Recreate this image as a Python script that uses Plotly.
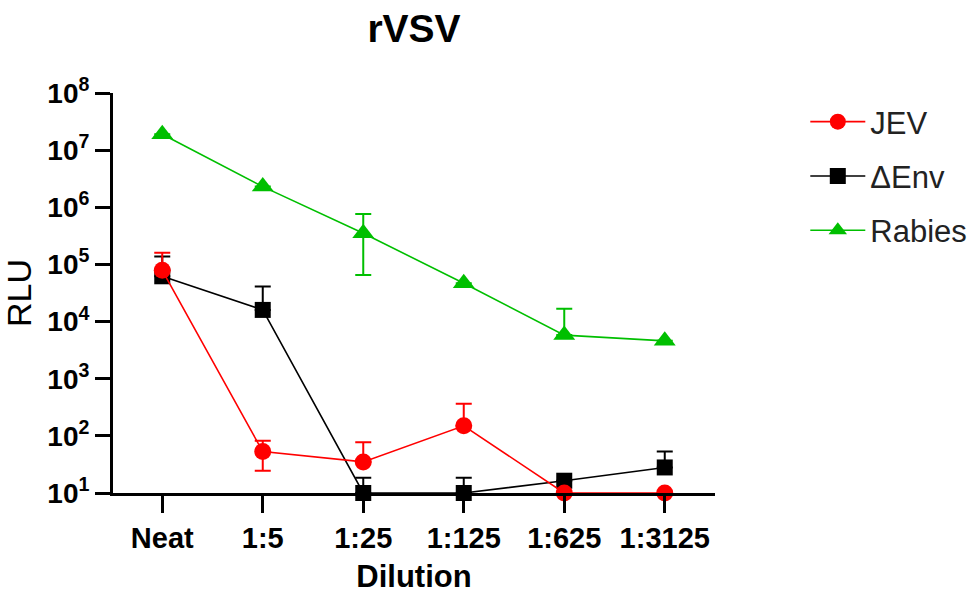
import plotly.graph_objects as go

dilutions = ["Neat", "1:5", "1:25", "1:125", "1:625", "1:3125"]

jev = [7.9e4, 53, 35, 150, 10, 10]
jev_err_plus = [8.1e4, 29, 42, 213, 0, 0]
jev_err_minus = [0, 28.5, 0, 0, 0, 0]

denv = [6.2e4, 1.6e4, 10, 10, 16.4, 28]
denv_err_plus = [7.6e4, 2.5e4, 8.5, 8.5, 0, 25]
denv_err_minus = [0, 0, 0, 0, 0, 0]

rabies = [1.9e7, 2.3e6, 3.5e5, 4.7e4, 5.8e3, 4.6e3]
rabies_err_plus = [0, 0, 4.1e5, 0, 1.1e4, 0]
rabies_err_minus = [0, 0, 2.85e5, 0, 0, 0]

ytick_vals = [1e1, 1e2, 1e3, 1e4, 1e5, 1e6, 1e7, 1e8]
ytick_text = ["10<sup>%d</sup>" % e for e in range(1, 9)]

FONT = "Liberation Sans, Arial, sans-serif"
RED = "#FF0000"
BLACK = "#000000"
GREEN = "#00BF00"

fig = go.Figure()

def add(name, y, plus, minus, color, symbol, size, rank):
    fig.add_trace(go.Scatter(
        x=dilutions, y=y, name=name, mode="lines+markers",
        line=dict(color=color, width=1.6),
        marker=dict(color=color, symbol=symbol, size=size),
        error_y=dict(type="data", symmetric=False, array=plus, arrayminus=minus,
                     color=color, thickness=2, width=8),
        cliponaxis=False, legendrank=rank, legendgroup=name,
    ))

add("Rabies", rabies, rabies_err_plus, rabies_err_minus, GREEN, "triangle-up", 19, 3)
add("ΔEnv", denv, denv_err_plus, denv_err_minus, BLACK, "square", 16, 2)
add("JEV", jev, jev_err_plus, jev_err_minus, RED, "circle", 17, 1)

fig.update_layout(
    width=974, height=594,
    margin=dict(l=113, r=259, t=93, b=101, autoexpand=False),
    paper_bgcolor="white", plot_bgcolor="white",
    font=dict(family=FONT, color="black"),
    title=dict(text="<b>rVSV</b>", x=414/974, xanchor="center", y=1-28/594, yanchor="middle",
               font=dict(size=39, family=FONT, color="black")),
    showlegend=True,
    legend=dict(x=1.15, y=0.995, xanchor="left", yanchor="top",
                font=dict(size=31, family=FONT, color="#222222"),
                traceorder="grouped", tracegroupgap=11, itemwidth=55,
                bgcolor="rgba(0,0,0,0)"),
)

fig.update_xaxes(
    type="category", range=[-0.49, 5.5], automargin=False,
    showline=True, linecolor="black", linewidth=3,
    ticks="outside", ticklen=17, tickwidth=3, tickcolor="black",
    tickfont=dict(size=29, family=FONT, color="black", weight="bold"),
    showgrid=False, zeroline=False,
    title=dict(text="<b>Dilution</b>", standoff=24,
               font=dict(size=31, family=FONT, color="black")),
)
fig.update_yaxes(
    type="log", range=[1, 8], automargin=False,
    tickmode="array", tickvals=ytick_vals, ticktext=ytick_text,
    showline=True, linecolor="black", linewidth=3,
    ticks="outside", ticklen=15, tickwidth=3, tickcolor="black",
    tickfont=dict(size=28, family=FONT, color="black", weight="bold"),
    showgrid=False, zeroline=False,
    title=dict(text="RLU", standoff=12, font=dict(size=34, family=FONT, color="black")),
)

fig.write_html("out.html")
